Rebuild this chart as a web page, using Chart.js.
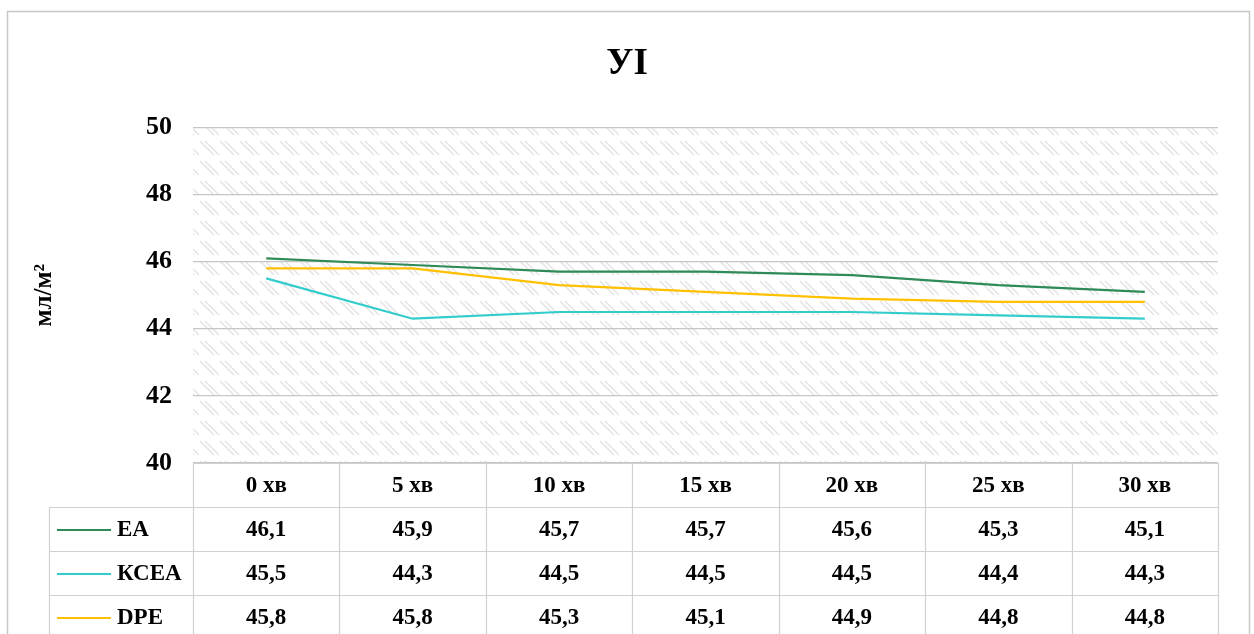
<!DOCTYPE html>
<html>
<head>
<meta charset="utf-8">
<script src="https://cdn.jsdelivr.net/npm/chart.js@4.4.1/dist/chart.umd.min.js"></script>
<style>
  html, body { margin: 0; padding: 0; background: #ffffff; }
  #wrap { position: relative; width: 1254px; height: 634px; }
  canvas { display: block; }
</style>
</head>
<body>
<div id="wrap"><canvas id="c" width="1254" height="634"></canvas></div>
<script>
const categories = ['0 хв', '5 хв', '10 хв', '15 хв', '20 хв', '25 хв', '30 хв'];
const seriesNames = ['ЕА', 'КСЕА', 'DPE'];
const eaValues = [46.1, 45.9, 45.7, 45.7, 45.6, 45.3, 45.1];
const kseaValues = [45.5, 44.3, 44.5, 44.5, 44.5, 44.4, 44.3];
const dpeValues = [45.8, 45.8, 45.3, 45.1, 44.9, 44.8, 44.8];
const yTicks = [40, 42, 44, 46, 48, 50];
const chartTitle = 'УІ';
const yAxisTitle = 'мл/м²';

const FONT = '"Liberation Serif", "Times New Roman", serif';
const colors = ['#2E8B57', '#33CCCC', '#FFC000'];

function makePattern(ctx) {
  const t = document.createElement('canvas');
  t.width = 20; t.height = 20;
  const p = t.getContext('2d');
  p.strokeStyle = 'rgba(205,205,205,0.55)';
  p.lineWidth = 1.6;
  p.beginPath();
  p.moveTo(0, 1); p.lineTo(14, 15);
  p.moveTo(5, 1); p.lineTo(19, 15);
  p.stroke();
  return ctx.createPattern(t, 'repeat');
}

const bgPlugin = {
  id: 'hatchBg',
  beforeDraw(chart) {
    const { ctx, chartArea: a } = chart;
    ctx.save();
    ctx.fillStyle = '#ffffff';
    ctx.fillRect(0, 0, chart.width, chart.height);
    ctx.strokeStyle = '#c8c8c8';
    ctx.lineWidth = 1.5;
    ctx.strokeRect(7.5, 11.5, 1242, 640);
    ctx.fillStyle = makePattern(ctx);
    ctx.fillRect(a.left, a.top, a.right - a.left, a.bottom - a.top);
    ctx.restore();
  }
};

const tablePlugin = {
  id: 'dataTable',
  afterDraw(chart) {
    const { ctx, chartArea: a } = chart;
    const xs = chart.scales.x;
    const n = categories.length;
    const cw = (a.right - a.left) / n;
    const rowH = 44;
    const top = a.bottom;
    const legendLeft = 49;
    const bottom = top + rowH * 4 + 10;
    ctx.save();
    ctx.strokeStyle = '#d0d0d0';
    ctx.lineWidth = 1.2;
    ctx.beginPath();
    ctx.moveTo(a.left, top + 0.5); ctx.lineTo(a.right, top + 0.5);
    for (let r = 1; r <= 3; r++) {
      const y = Math.round(top + rowH * r) + 0.5;
      ctx.moveTo(legendLeft, y); ctx.lineTo(a.right, y);
    }
    ctx.moveTo(legendLeft + 0.5, top + rowH); ctx.lineTo(legendLeft + 0.5, bottom);
    for (let i = 0; i <= n; i++) {
      const x = Math.round(a.left + cw * i) + 0.5;
      ctx.moveTo(x, top); ctx.lineTo(x, bottom);
    }
    ctx.stroke();

    ctx.fillStyle = '#000';
    ctx.textAlign = 'center';
    ctx.textBaseline = 'middle';
    ctx.font = 'bold 23px ' + FONT;
    categories.forEach((c, i) => {
      ctx.fillText(c, xs.getPixelForValue(i), top + rowH / 2 + 1);
    });
    chart.data.datasets.forEach((ds, r) => {
      const yc = top + rowH * (r + 1) + rowH / 2 + 1;
      ctx.textAlign = 'center';
      ds.data.forEach((v, i) => {
        ctx.fillText(v.toFixed(1).replace('.', ','), xs.getPixelForValue(i), yc);
      });
      ctx.strokeStyle = ds.borderColor;
      ctx.lineWidth = 2;
      ctx.beginPath();
      ctx.moveTo(57, yc); ctx.lineTo(111, yc);
      ctx.stroke();
      ctx.textAlign = 'left';
      ctx.fillText(ds.label, 117, yc);
    });
    ctx.restore();
  }
};

new Chart(document.getElementById('c'), {
  type: 'line',
  data: {
    labels: categories,
    datasets: [
      { label: seriesNames[0], data: eaValues, borderColor: colors[0], backgroundColor: colors[0] },
      { label: seriesNames[1], data: kseaValues, borderColor: colors[1], backgroundColor: colors[1] },
      { label: seriesNames[2], data: dpeValues, borderColor: colors[2], backgroundColor: colors[2] }
    ].map(d => Object.assign(d, { borderWidth: 2.2, pointRadius: 0, tension: 0, fill: false }))
  },
  options: {
    responsive: false,
    animation: false,
    devicePixelRatio: 1,
    layout: { padding: { left: 0, top: 0, right: 0, bottom: 171 } },
    plugins: {
      legend: { display: false },
      tooltip: { enabled: false },
      title: {
        display: true,
        text: chartTitle,
        color: '#000',
        font: { family: FONT, size: 37, weight: 'bold', lineHeight: 1.2 },
        padding: { top: 42, bottom: 41 }
      }
    },
    scales: {
      x: {
        type: 'category',
        offset: true,
        display: false,
        grid: { display: false }
      },
      y: {
        min: 40, max: 50,
        afterFit(scale) { scale.width = 193; },
        afterBuildTicks(scale) { scale.ticks = yTicks.map(v => ({ value: v })); },
        border: { display: false },
        grid: { color: '#c6c6c6', lineWidth: 1.2, drawTicks: false },
        ticks: {
          color: '#000',
          padding: 21,
          font: { family: FONT, size: 26, weight: 'bold' }
        },
        title: {
          display: true,
          text: yAxisTitle,
          color: '#000',
          font: { family: FONT, size: 25, weight: 'bold', lineHeight: 1.2 },
          padding: { top: 30, bottom: 0 }
        }
      },
      yRight: {
        position: 'right',
        display: true,
        min: 40, max: 50,
        afterFit(scale) { scale.width = 36; },
        border: { display: false },
        grid: { display: false, drawTicks: false },
        ticks: { display: false }
      }
    }
  },
  plugins: [bgPlugin, tablePlugin]
});
</script>
</body>
</html>
